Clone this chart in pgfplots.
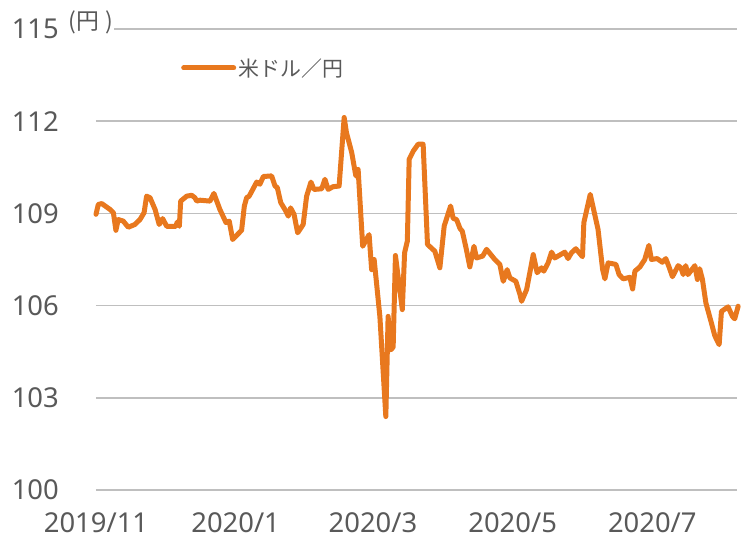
\documentclass[border=0pt]{standalone}
\usepackage{pgfplots}
\pgfplotsset{compat=1.18}
\usepackage{fontspec}
\setmainfont{Noto Sans CJK JP}
\newfontfamily\numfont{Noto Sans}
\definecolor{usdjpy}{RGB}{232,120,30}
\definecolor{gridc}{RGB}{191,191,191}
\definecolor{labc}{RGB}{89,89,89}
\begin{document}
\begin{tikzpicture}
\path[use as bounding box] (-96bp,-49bp) rectangle (654bp,490bp);
\begin{axis}[
  at={(0,0)}, anchor=south west,
  scale only axis, width=641bp, height=461bp,
  xmin=0, xmax=280, ymin=100, ymax=115,
  ytick={100,103,106,109,112,115},
  xtick={0,61,121,182,243},
  xticklabels={2019/11,2020/1,2020/3,2020/5,2020/7},
  axis line style={draw=none},
  ymajorgrids, major grid style={color=gridc, line width=1.6bp},
  major tick length=0pt,
  /pgf/number format/assume math mode=true,
  tick label style={font=\numfont\fontsize{27.5}{32}\selectfont, text=labc},
  yticklabel style={anchor=east, inner sep=0pt, xshift=-37bp},
  xticklabel style={anchor=north, inner sep=0pt, text depth=0pt, yshift=-22bp},
  clip=false,
  legend style={at={(85bp,422bp)}, anchor=west, draw=none, fill=none, inner sep=0pt,
    font=\fontsize{21}{25}\selectfont, text=labc,
    nodes={inner sep=2.5bp}},
  legend image code/.code={\draw[line width=5bp, line cap=round] (0bp,0bp) -- (50bp,0bp);},
]
\addplot[color=usdjpy, line width=5bp, line join=round, line cap=round] coordinates {
(0,108.97) (1.0,109.29) (2.5,109.32) (6.1,109.13) (7.6,109.02) (8.7,108.45) (9.7,108.80)
(11.9,108.75) (14.1,108.55) (17.0,108.64) (19.2,108.80) (21.0,109.02) (22.1,109.56)
(23.6,109.51) (25.8,109.13) (27.6,108.64) (29.1,108.83) (30.9,108.58) (34.9,108.58)
(35.5,108.72) (36.4,108.58) (37.0,109.40) (39.6,109.56) (41.8,109.59) (43.2,109.51)
(44.0,109.40) (45.4,109.43) (49.8,109.40) (51.5,109.65) (54.1,109.13) (56.8,108.70)
(58.2,108.75) (59.7,108.15) (63.6,108.45) (64.8,109.24) (65.8,109.51) (66.9,109.56)
(70.2,110.02) (71.6,109.95) (73.1,110.20) (76.7,110.22) (78.2,109.89) (79.2,109.84)
(80.7,109.35) (82.5,109.13) (84.0,108.91) (85.0,109.18) (86.5,108.97) (88.1,108.37)
(90.5,108.64) (92.0,109.56) (93.9,110.02) (95.2,109.78) (98.6,109.80) (100.0,110.11)
(101.4,109.78) (103.6,109.87) (106.2,109.89) (108.4,112.12) (109.4,111.63) (111.7,110.98)
(113.5,110.22) (114.5,110.43) (116.5,107.93) (119.3,108.31) (120.4,107.17) (121.5,107.50)
(124.0,105.65) (126.6,102.39) (127.6,105.65) (128.8,104.56) (129.8,104.65) (130.8,107.63)
(133.8,105.87) (134.8,107.72) (136.0,108.10) (136.8,110.76) (138.6,111.03) (140.7,111.25)
(142.9,111.25) (144.8,107.99) (148.0,107.77) (150.2,107.23) (152.1,108.59) (154.9,109.24)
(156.0,108.84) (157.5,108.80) (159.0,108.51) (160.0,108.42) (161.6,107.89) (163.3,107.26)
(165.1,107.93) (166.2,107.55) (168.9,107.61) (170.6,107.83) (174.2,107.50) (176.4,107.34)
(177.9,106.79) (179.6,107.17) (180.8,106.90) (183.4,106.79) (185.2,106.36) (185.9,106.14)
(188.1,106.52) (191.0,107.66) (192.7,107.07) (194.6,107.23) (195.6,107.12) (197.5,107.39)
(199.0,107.74) (200.4,107.55) (204.8,107.74) (206.2,107.53) (207.7,107.72) (209.6,107.85)
(212.5,107.59) (213.1,108.70) (215.9,109.62) (219.3,108.48) (221.3,107.17) (222.3,106.87)
(223.7,107.39) (227.1,107.34) (228.5,107.01) (230.3,106.87) (233.2,106.92) (234.4,106.54)
(235.4,107.12) (237.6,107.26) (239.7,107.50) (241.5,107.96) (242.6,107.50) (245.1,107.53)
(247.4,107.41) (248.9,107.53) (250.3,107.26) (251.8,106.94) (254.3,107.30) (255.5,107.23)
(256.5,107.01) (257.6,107.30) (258.6,107.01) (261.6,107.30) (262.7,106.85) (263.7,107.20)
(264.9,106.85) (266.4,106.09) (268.8,105.44) (270.3,105.02) (272.2,104.73) (273.2,105.81)
(276.1,105.96) (278.0,105.65) (279.0,105.57) (280.5,105.98)
};
\addlegendentry{米ドル／円}
\node[anchor=west, fill=white, inner sep=1bp, text=labc, font=\fontsize{23}{27}\selectfont,
  xshift=-29bp, yshift=6.5bp]
  at (rel axis cs:0,1) {(\kern0.5bp 円\kern6bp)};
\end{axis}
\end{tikzpicture}
\end{document}
